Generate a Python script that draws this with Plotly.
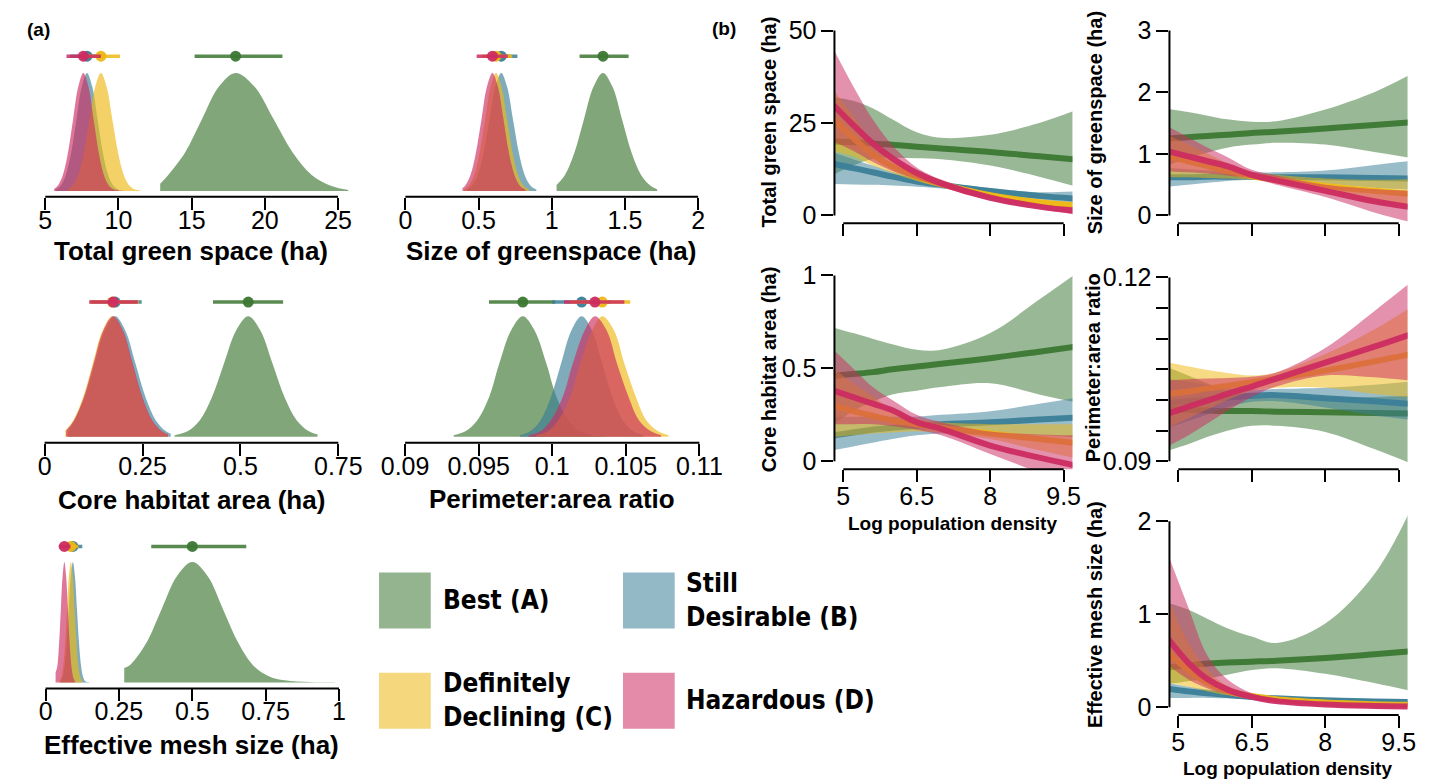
import plotly.graph_objects as go

W, H = 1448, 783

GROUPS = ["A", "B", "C", "D"]
GROUP_LABELS = {
    "A": "Best (A)",
    "B": "Still<br>Desirable (B)",
    "C": "Definitely<br>Declining (C)",
    "D": "Hazardous (D)",
}
COLORS = {"A": (60, 119, 51), "B": (59, 126, 151), "C": (237, 184, 20), "D": (204, 44, 97)}

# ---------------- panel (a): posterior densities (x, relative height) ----------------
A1_TICKS = [5, 10, 15, 20, 25]
A1_DENS_X = {
    "A": [12.85, 13.4, 14.55, 15.7, 16.85, 18.0, 19.3, 20.6, 21.9, 23.2, 24.5, 25.7],
    "B": [5.7, 6.05, 6.4, 6.77, 7.13, 7.49, 7.85, 8.21, 8.57, 8.93, 9.29, 9.65, 10.0],
    "C": [6.6, 6.85, 7.24, 7.63, 8.02, 8.41, 8.8, 9.19, 9.58, 9.97, 10.36, 10.75, 11.14, 11.5],
    "D": [5.6, 5.85, 6.2, 6.55, 6.9, 7.25, 7.6, 7.95, 8.3, 8.65, 9.0, 9.35, 9.7, 10.3],
}
A1_DENS_H = {
    "A": [0.06, 0.135, 0.325, 0.607, 0.882, 1.0, 0.882, 0.607, 0.325, 0.135, 0.044, 0.008],
    "B": [0.011, 0.044, 0.135, 0.325, 0.607, 0.882, 1.0, 0.882, 0.607, 0.325, 0.135, 0.044, 0.011],
    "C": [0.02, 0.044, 0.135, 0.325, 0.607, 0.882, 1.0, 0.882, 0.607, 0.325, 0.135, 0.044, 0.011, 0.003],
    "D": [0.017, 0.044, 0.135, 0.325, 0.607, 0.882, 1.0, 0.882, 0.607, 0.325, 0.135, 0.044, 0.011, 0.001],
}
A1_INTERVAL = {"A": (15.2, 18.0, 21.2), "B": (6.7, 7.85, 9.0), "C": (7.6, 8.8, 10.1), "D": (6.45, 7.6, 8.8)}

A2_TICKS = [0, 0.5, 1, 1.5, 2]
A2_DENS_X = {
    "A": [1.033, 1.09, 1.155, 1.22, 1.285, 1.35, 1.415, 1.48, 1.545, 1.61, 1.675, 1.72],
    "B": [0.42, 0.455, 0.495, 0.535, 0.575, 0.615, 0.655, 0.695, 0.735, 0.775, 0.815, 0.855, 0.895],
    "C": [0.4, 0.432, 0.47, 0.507, 0.545, 0.582, 0.62, 0.657, 0.695, 0.732, 0.77, 0.807, 0.845],
    "D": [0.39, 0.408, 0.445, 0.482, 0.52, 0.557, 0.595, 0.632, 0.67, 0.707, 0.745, 0.782, 0.82],
}
A2_DENS_H = {
    "A": [0.05, 0.135, 0.325, 0.607, 0.882, 1.0, 0.882, 0.607, 0.325, 0.135, 0.044, 0.015],
    "B": [0.013, 0.044, 0.135, 0.325, 0.607, 0.882, 1.0, 0.882, 0.607, 0.325, 0.135, 0.044, 0.011],
    "C": [0.013, 0.044, 0.135, 0.325, 0.607, 0.882, 1.0, 0.882, 0.607, 0.325, 0.135, 0.044, 0.011],
    "D": [0.024, 0.044, 0.135, 0.325, 0.607, 0.882, 1.0, 0.882, 0.607, 0.325, 0.135, 0.044, 0.011],
}
A2_INTERVAL = {"A": (1.19, 1.35, 1.525), "B": (0.55, 0.655, 0.765), "C": (0.52, 0.62, 0.73), "D": (0.487, 0.595, 0.70)}

A3_TICKS = [0, 0.25, 0.5, 0.75]
A3_DENS_X = {
    "A": [0.332, 0.365, 0.396, 0.427, 0.458, 0.489, 0.52, 0.551, 0.582, 0.613, 0.644, 0.675, 0.697],
    "B": [0.06, 0.076, 0.102, 0.128, 0.154, 0.18, 0.206, 0.232, 0.258, 0.284, 0.31, 0.322],
    "C": [0.053, 0.073, 0.098, 0.123, 0.148, 0.173, 0.198, 0.223, 0.248, 0.273, 0.298, 0.313],
    "D": [0.055, 0.075, 0.1, 0.125, 0.15, 0.175, 0.2, 0.225, 0.25, 0.275, 0.3, 0.315],
}
A3_DENS_H = {
    "A": [0.012, 0.044, 0.135, 0.325, 0.607, 0.882, 1.0, 0.882, 0.607, 0.325, 0.135, 0.044, 0.017],
    "B": [0.04, 0.135, 0.325, 0.607, 0.882, 1.0, 0.882, 0.607, 0.325, 0.135, 0.044, 0.024],
    "C": [0.05, 0.135, 0.325, 0.607, 0.882, 1.0, 0.882, 0.607, 0.325, 0.135, 0.044, 0.02],
    "D": [0.05, 0.135, 0.325, 0.607, 0.882, 1.0, 0.882, 0.607, 0.325, 0.135, 0.044, 0.02],
}
A3_INTERVAL = {"A": (0.43, 0.52, 0.609), "B": (0.12, 0.18, 0.248), "C": (0.115, 0.173, 0.24), "D": (0.114, 0.175, 0.238)}

A4_TICKS = [0.09, 0.095, 0.1, 0.105, 0.11]
A4_DENS_X = {
    "A": [0.0933, 0.0941, 0.0949, 0.0957, 0.0964, 0.0972, 0.098, 0.0988, 0.0996, 0.1003, 0.1011, 0.1019, 0.1027, 0.1035],
    "B": [0.0978, 0.0985, 0.0992, 0.0999, 0.1006, 0.1013, 0.102, 0.1027, 0.1034, 0.1041, 0.1048, 0.1055, 0.1062],
    "C": [0.0989, 0.0997, 0.1004, 0.1012, 0.1019, 0.1027, 0.1034, 0.1042, 0.1049, 0.1057, 0.1064, 0.1072, 0.1079],
    "D": [0.0984, 0.0992, 0.0999, 0.1007, 0.1014, 0.1022, 0.1029, 0.1037, 0.1044, 0.1052, 0.1059, 0.1067, 0.1074],
}
A4_DENS_H = {
    "A": [0.011, 0.044, 0.135, 0.325, 0.607, 0.882, 1.0, 0.882, 0.607, 0.325, 0.135, 0.044, 0.011, 0.002],
    "B": [0.011, 0.044, 0.135, 0.325, 0.607, 0.882, 1.0, 0.882, 0.607, 0.325, 0.135, 0.044, 0.011],
    "C": [0.011, 0.044, 0.135, 0.325, 0.607, 0.882, 1.0, 0.882, 0.607, 0.325, 0.135, 0.044, 0.011],
    "D": [0.011, 0.044, 0.135, 0.325, 0.607, 0.882, 1.0, 0.882, 0.607, 0.325, 0.135, 0.044, 0.011],
}
A4_INTERVAL = {"A": (0.0957, 0.098, 0.1002), "B": (0.1, 0.102, 0.104), "C": (0.1012, 0.1034, 0.1053), "D": (0.1008, 0.1029, 0.1049)}

A5_TICKS = [0, 0.25, 0.5, 0.75, 1]
A5_DENS_X = {
    "A": [0.268, 0.29, 0.3425, 0.395, 0.4475, 0.5, 0.5525, 0.605, 0.6575, 0.71, 0.7625, 0.815, 0.9, 0.985],
    "B": [0.051, 0.058, 0.065, 0.072, 0.079, 0.086, 0.093, 0.1, 0.107, 0.114, 0.121, 0.128, 0.135, 0.15],
    "C": [0.047, 0.0535, 0.06, 0.0665, 0.073, 0.0795, 0.086, 0.0925, 0.099, 0.1055, 0.112, 0.1185, 0.125],
    "D": [0.034, 0.04, 0.046, 0.052, 0.058, 0.064, 0.07, 0.076, 0.082, 0.088, 0.094, 0.1],
}
A5_DENS_H = {
    "A": [0.12, 0.15, 0.325, 0.607, 0.882, 1.0, 0.882, 0.607, 0.325, 0.135, 0.05, 0.018, 0.004, 0.001],
    "B": [0.011, 0.044, 0.135, 0.325, 0.607, 0.882, 1.0, 0.882, 0.607, 0.325, 0.135, 0.044, 0.011, 0.002],
    "C": [0.011, 0.044, 0.135, 0.325, 0.607, 0.882, 1.0, 0.882, 0.607, 0.325, 0.135, 0.044, 0.011],
    "D": [0.08, 0.135, 0.325, 0.607, 0.882, 1.0, 0.882, 0.607, 0.325, 0.135, 0.044, 0.011],
}
A5_INTERVAL = {"A": (0.36, 0.5, 0.684), "B": (0.07, 0.093, 0.125), "C": (0.062, 0.086, 0.112), "D": (0.045, 0.064, 0.085)}

# ---------------- panel (b): fitted relationships vs log population density ----------------
X_GRID = [4.8, 5.2, 5.6, 6.0, 6.5, 7.0, 8.0, 9.0, 9.7]
B_XTICKS = [5, 6.5, 8, 9.5]

B1_MEAN = {"A": [20.0, 19.8, 19.5, 19.1, 18.6, 18.1, 17.2, 16.0, 15.2],
           "B": [14.0, 12.8, 11.7, 10.5, 9.2, 8.3, 6.6, 5.3, 4.6],
           "C": [26.0, 21.0, 16.5, 13.3, 10.5, 8.5, 5.5, 3.6, 2.8],
           "D": [29.8, 24.5, 19.5, 15.5, 11.5, 8.7, 4.8, 2.4, 1.3]}
B1_LO = {"A": [11.0, 13.5, 15.3, 15.6, 15.5, 15.2, 13.5, 10.5, 8.0],
         "B": [8.5, 8.4, 8.3, 8.1, 7.8, 7.3, 5.8, 4.3, 3.3],
         "C": [17.5, 16.0, 13.5, 11.5, 9.3, 7.6, 4.8, 2.9, 2.1],
         "D": [20.0, 17.5, 14.5, 12.0, 9.8, 7.7, 4.1, 1.8, 0.3]}
B1_HI = {"A": [32.0, 31.0, 29.0, 26.0, 22.5, 21.0, 21.8, 25.0, 28.2],
         "B": [17.0, 15.2, 13.5, 11.8, 10.0, 9.0, 7.4, 6.3, 6.5],
         "C": [34.0, 27.0, 20.0, 15.5, 11.8, 9.5, 6.2, 4.3, 3.6],
         "D": [45.0, 35.0, 26.0, 19.0, 13.0, 9.7, 5.5, 3.0, 2.3]}
B1_YTICKS = [0, 25, 50]

B2_MEAN = {"A": [1.25, 1.27, 1.29, 1.31, 1.34, 1.36, 1.41, 1.47, 1.51],
           "B": [0.62, 0.62, 0.63, 0.63, 0.63, 0.62, 0.62, 0.61, 0.6],
           "C": [0.95, 0.88, 0.8, 0.72, 0.64, 0.58, 0.48, 0.4, 0.35],
           "D": [1.04, 0.96, 0.88, 0.8, 0.66, 0.57, 0.4, 0.23, 0.14]}
B2_LO = {"A": [0.82, 0.93, 1.02, 1.1, 1.15, 1.18, 1.15, 1.03, 0.94],
         "B": [0.47, 0.5, 0.53, 0.56, 0.58, 0.57, 0.52, 0.45, 0.42],
         "C": [0.62, 0.62, 0.61, 0.6, 0.58, 0.52, 0.38, 0.2, 0.12],
         "D": [0.72, 0.7, 0.68, 0.65, 0.6, 0.5, 0.3, 0.05, -0.1]}
B2_HI = {"A": [1.73, 1.68, 1.62, 1.56, 1.52, 1.53, 1.72, 2.0, 2.27],
         "B": [0.77, 0.75, 0.73, 0.71, 0.7, 0.7, 0.73, 0.82, 0.88],
         "C": [1.3, 1.15, 1.0, 0.85, 0.7, 0.66, 0.6, 0.58, 0.59],
         "D": [1.44, 1.27, 1.1, 0.95, 0.74, 0.65, 0.5, 0.43, 0.4]}
B2_YTICKS = [0, 1, 2, 3]

B3_MEAN = {"A": [0.46, 0.47, 0.48, 0.495, 0.51, 0.525, 0.555, 0.59, 0.615],
           "B": [0.14, 0.155, 0.17, 0.18, 0.19, 0.2, 0.21, 0.225, 0.235],
           "C": [0.3, 0.27, 0.245, 0.22, 0.2, 0.18, 0.15, 0.12, 0.1],
           "D": [0.38, 0.345, 0.31, 0.275, 0.21, 0.175, 0.085, 0.02, -0.02]}
B3_LO = {"A": [0.2, 0.27, 0.32, 0.36, 0.38, 0.4, 0.42, 0.36, 0.32],
         "B": [0.06, 0.08, 0.1, 0.12, 0.14, 0.15, 0.15, 0.14, 0.13],
         "C": [0.13, 0.14, 0.15, 0.155, 0.16, 0.155, 0.12, 0.06, 0.02],
         "D": [0.2, 0.2, 0.2, 0.19, 0.17, 0.14, 0.04, -0.06, -0.12]}
B3_HI = {"A": [0.72, 0.69, 0.66, 0.63, 0.6, 0.6, 0.69, 0.87, 1.0],
         "B": [0.24, 0.24, 0.24, 0.24, 0.24, 0.25, 0.27, 0.31, 0.34],
         "C": [0.5, 0.42, 0.35, 0.28, 0.23, 0.21, 0.2, 0.2, 0.2],
         "D": [0.6, 0.5, 0.4, 0.33, 0.25, 0.21, 0.16, 0.145, 0.14]}
B3_YTICKS = [0, 0.5, 1]

B4_MEAN = {"A": [0.0985, 0.0984, 0.0983, 0.0982, 0.0982, 0.0981, 0.098, 0.0979, 0.0978],
           "B": [0.0995, 0.0998, 0.1001, 0.1004, 0.1007, 0.1008, 0.1003, 0.0998, 0.0994],
           "C": [0.101, 0.1014, 0.1019, 0.1023, 0.1029, 0.1035, 0.1048, 0.1063, 0.1074],
           "D": [0.0978, 0.0989, 0.0999, 0.101, 0.1022, 0.1035, 0.1061, 0.1087, 0.1106]}
B4_LO = {"A": [0.0918, 0.0928, 0.094, 0.095, 0.0958, 0.0958, 0.0948, 0.092, 0.0898],
         "B": [0.0955, 0.0966, 0.0977, 0.0988, 0.0997, 0.0998, 0.0988, 0.0975, 0.0968],
         "C": [0.0955, 0.097, 0.0985, 0.1, 0.1015, 0.102, 0.102, 0.101, 0.1005],
         "D": [0.0925, 0.0942, 0.0962, 0.0982, 0.1005, 0.1022, 0.104, 0.1037, 0.1032]}
B4_HI = {"A": [0.1053, 0.104, 0.1027, 0.1015, 0.1005, 0.1003, 0.1004, 0.1005, 0.1007],
         "B": [0.1035, 0.103, 0.1025, 0.102, 0.1017, 0.1018, 0.102, 0.1025, 0.103],
         "C": [0.1061, 0.1055, 0.1049, 0.1044, 0.104, 0.1045, 0.1075, 0.1115, 0.1149],
         "D": [0.1032, 0.1034, 0.1035, 0.1036, 0.1038, 0.1045, 0.1085, 0.1145, 0.1189]}
B4_YTICKS = [0.09, 0.095, 0.1, 0.105, 0.11, 0.115, 0.12]
B4_YLABELS = ["0.09", "", "", "", "", "", "0.12"]

B5_MEAN = {"A": [0.43, 0.45, 0.47, 0.48, 0.49, 0.5, 0.53, 0.57, 0.6],
           "B": [0.2, 0.17, 0.15, 0.13, 0.11, 0.095, 0.075, 0.062, 0.055],
           "C": [0.58, 0.4, 0.26, 0.17, 0.12, 0.085, 0.05, 0.032, 0.025],
           "D": [0.73, 0.48, 0.3, 0.19, 0.11, 0.065, 0.028, 0.013, 0.008]}
B5_LO = {"A": [0.25, 0.28, 0.31, 0.35, 0.4, 0.42, 0.36, 0.26, 0.18],
         "B": [0.1, 0.1, 0.1, 0.095, 0.085, 0.075, 0.055, 0.04, 0.03],
         "C": [0.26, 0.22, 0.17, 0.13, 0.1, 0.07, 0.035, 0.018, 0.012],
         "D": [0.45, 0.3, 0.2, 0.14, 0.085, 0.05, 0.018, 0.006, 0.003]}
B5_HI = {"A": [1.12, 1.05, 0.95, 0.85, 0.76, 0.69, 0.9, 1.43, 2.08],
         "B": [0.26, 0.22, 0.19, 0.16, 0.13, 0.115, 0.095, 0.088, 0.085],
         "C": [1.15, 0.7, 0.4, 0.23, 0.145, 0.1, 0.06, 0.045, 0.04],
         "D": [1.63, 1.08, 0.55, 0.3, 0.15, 0.09, 0.04, 0.02, 0.015]}
B5_YTICKS = [0, 1, 2]

# ---------------- styling / layout helpers ----------------
NUM_FONT = "Liberation Sans, Arial, Helvetica, sans-serif"
LEG_FONT = "DejaVu Sans Condensed, Liberation Sans Narrow, Liberation Sans, sans-serif"


def rgba(g, a):
    r, gg, b = COLORS[g]
    return f"rgba({r},{gg},{b},{a})"


def fx(p):
    return p / W


def fy(p):
    return 1 - p / H


def fmt(v):
    return f"{v:g}"


fig = go.Figure()
layout = dict(width=W, height=H, margin=dict(l=0, r=0, t=0, b=0, pad=0),
              paper_bgcolor="white", plot_bgcolor="rgba(0,0,0,0)",
              showlegend=False, hovermode=False)
shapes = []
annotations = []

tickfont = dict(family=NUM_FONT, size=25, color="black")


def axis_names(i):
    if i == 1:
        return "xaxis", "yaxis", "x", "y"
    return f"xaxis{i}", f"yaxis{i}", f"x{i}", f"y{i}"


def axline(xref, yref, x0, x1, y0, y1):
    shapes.append(dict(type="line", xref=xref, yref=yref, x0=x0, x1=x1, y0=y0, y1=y1,
                       line=dict(color="black", width=2), layer="above"))


panels_a = [
    dict(xdom=(20, 345), ydom=(40, 193), xr=(4.4, 26.0667), yr=(-0.05, 1.225), ivy=1.142,
         ticks=A1_TICKS, dx=A1_DENS_X, dh=A1_DENS_H, iv=A1_INTERVAL,
         title="Total green space (ha)", tpos=(178, 248)),
    dict(xdom=(390, 705), ydom=(40, 193), xr=(-0.05333, 2.04667), yr=(-0.05, 1.225), ivy=1.142,
         ticks=A2_TICKS, dx=A2_DENS_X, dh=A2_DENS_H, iv=A2_INTERVAL,
         title="Size of greenspace (ha)", tpos=(547, 248)),
    dict(xdom=(20, 345), ydom=(290, 443), xr=(-0.02068, 0.78919), yr=(-0.05, 1.2), ivy=1.118,
         ticks=A3_TICKS, dx=A3_DENS_X, dh=A3_DENS_H, iv=A3_INTERVAL,
         title="Core habitat area (ha)", tpos=(179, 501)),
    dict(xdom=(390, 705), ydom=(290, 443), xr=(0.089489, 0.110378), yr=(-0.05, 1.2), ivy=1.118,
         ticks=A4_TICKS, dx=A4_DENS_X, dh=A4_DENS_H, iv=A4_INTERVAL,
         title="Perimeter:area ratio", tpos=(548, 500)),
    dict(xdom=(20, 345), ydom=(540, 693), xr=(-0.03093, 1.04988), yr=(-0.05, 1.2), ivy=1.13,
         ticks=A5_TICKS, dx=A5_DENS_X, dh=A5_DENS_H, iv=A5_INTERVAL,
         title="Effective mesh size (ha)", tpos=(179, 750)),
]

idx = 0
for p in panels_a:
    idx += 1
    xa, ya, xr, yr = axis_names(idx)
    layout[xa] = dict(domain=[fx(p["xdom"][0]), fx(p["xdom"][1])], range=list(p["xr"]), anchor=yr,
                      showgrid=False, zeroline=False, showline=False,
                      ticks="outside", ticklen=12, tickwidth=2, tickcolor="black",
                      tickvals=p["ticks"], ticktext=[fmt(v) for v in p["ticks"]],
                      ticklabelstandoff=-11,
                      tickfont=tickfont, fixedrange=True)
    layout[ya] = dict(domain=[fy(p["ydom"][1]), fy(p["ydom"][0])], range=list(p["yr"]), anchor=xr,
                      visible=False, fixedrange=True)
    axline(xr, f"{yr} domain", p["ticks"][0], p["ticks"][-1], 0, 0)
    for g in GROUPS:
        fig.add_trace(go.Scatter(x=p["dx"][g], y=p["dh"][g], mode="lines",
                                 line=dict(width=0, shape="spline", color=rgba(g, 0.65)),
                                 fill="tozeroy", fillcolor=rgba(g, 0.65),
                                 xaxis=xr, yaxis=yr, hoverinfo="skip"))
    for g in GROUPS:
        lo, pt, hi = p["iv"][g]
        fig.add_trace(go.Scatter(x=[lo, hi], y=[p["ivy"], p["ivy"]], mode="lines",
                                 line=dict(width=3.5, color=rgba(g, 0.85)),
                                 xaxis=xr, yaxis=yr, hoverinfo="skip"))
        fig.add_trace(go.Scatter(x=[pt], y=[p["ivy"]], mode="markers",
                                 marker=dict(size=11, color=rgba(g, 0.95), line=dict(width=0)),
                                 xaxis=xr, yaxis=yr, hoverinfo="skip"))
    annotations.append(dict(text=f"<b>{p['title']}</b>", x=fx(p["tpos"][0]), y=fy(p["tpos"][1]),
                            xref="paper", yref="paper", xanchor="center", yanchor="middle",
                            showarrow=False, font=dict(family=NUM_FONT, size=26, color="black")))

panels_b = [
    dict(xdom=(837.7, 1081.6), ydom=(16, 220), yr=(-2.128, 52.128), yt=B1_YTICKS, yl=None,
         mean=B1_MEAN, lo=B1_LO, hi=B1_HI, xlab=False,
         ytitle="Total green space (ha)", ytpos=(771, 117)),
    dict(xdom=(1181, 1425), ydom=(16, 220), yr=(-0.1277, 3.1277), yt=B2_YTICKS, yl=None,
         mean=B2_MEAN, lo=B2_LO, hi=B2_HI, xlab=False,
         ytitle="Size of greenspace (ha)", ytpos=(1105, 118)),
    dict(xdom=(837.7, 1081.6), ydom=(266, 470), yr=(-0.0423, 1.037), yt=B3_YTICKS, yl=None,
         mean=B3_MEAN, lo=B3_LO, hi=B3_HI, xlab=True, xtpos=(959, 525),
         ytitle="Core habitat area (ha)", ytpos=(771, 368)),
    dict(xdom=(1181, 1425), ydom=(266, 470), yr=(0.08872, 0.12144), yt=B4_YTICKS, yl=B4_YLABELS,
         mean=B4_MEAN, lo=B4_LO, hi=B4_HI, xlab=False,
         ytitle="Perimeter:area ratio", ytpos=(1103, 367)),
    dict(xdom=(1181, 1425), ydom=(515, 720), yr=(-0.0847, 2.0847), yt=B5_YTICKS, yl=None,
         mean=B5_MEAN, lo=B5_LO, hi=B5_HI, xlab=True, xtpos=(1302, 774),
         ytitle="Effective mesh size (ha)", ytpos=(1104, 618)),
]

for p in panels_b:
    idx += 1
    xa, ya, xr, yr = axis_names(idx)
    layout[xa] = dict(domain=[fx(p["xdom"][0]), fx(p["xdom"][1])], range=[4.82, 9.68], anchor=yr,
                      showgrid=False, zeroline=False, showline=False,
                      ticks="outside", ticklen=12, tickwidth=2, tickcolor="black",
                      tickvals=B_XTICKS, ticktext=[fmt(v) for v in B_XTICKS],
                      showticklabels=p["xlab"], ticklabelstandoff=-7,
                      tickfont=tickfont, fixedrange=True)
    layout[ya] = dict(domain=[fy(p["ydom"][1]), fy(p["ydom"][0])], range=list(p["yr"]), anchor=xr,
                      showgrid=False, zeroline=False, showline=False,
                      ticks="outside", ticklen=12, tickwidth=2, tickcolor="black",
                      tickvals=p["yt"], ticktext=p["yl"] if p["yl"] else [fmt(v) for v in p["yt"]],
                      tickfont=tickfont, fixedrange=True)
    axline(xr, f"{yr} domain", B_XTICKS[0], B_XTICKS[-1], 0, 0)
    axline(f"{xr} domain", yr, 0, 0, p["yt"][0], p["yt"][-1])
    for g in GROUPS:
        fig.add_trace(go.Scatter(x=X_GRID, y=p["lo"][g], mode="lines",
                                 line=dict(width=0, shape="spline", color=rgba(g, 0)),
                                 xaxis=xr, yaxis=yr, hoverinfo="skip"))
        fig.add_trace(go.Scatter(x=X_GRID, y=p["hi"][g], mode="lines",
                                 line=dict(width=0, shape="spline", color=rgba(g, 0)),
                                 fill="tonexty", fillcolor=rgba(g, 0.52),
                                 xaxis=xr, yaxis=yr, hoverinfo="skip"))
        fig.add_trace(go.Scatter(x=X_GRID, y=p["mean"][g], mode="lines",
                                 line=dict(width=6, shape="spline", color=rgba(g, 0.95)),
                                 xaxis=xr, yaxis=yr, hoverinfo="skip"))
    annotations.append(dict(text=f"<b>{p['ytitle']}</b>", x=fx(p["ytpos"][0]), y=fy(p["ytpos"][1]),
                            xref="paper", yref="paper", xanchor="center", yanchor="middle",
                            textangle=-90, showarrow=False,
                            font=dict(family=NUM_FONT, size=20, color="black")))
    if p["xlab"]:
        annotations.append(dict(text="<b>Log population density</b>", x=fx(p["xtpos"][0]),
                                y=fy(p["xtpos"][1]), xref="paper", yref="paper",
                                xanchor="center", yanchor="middle", showarrow=False,
                                font=dict(family=NUM_FONT, size=19, color="black")))

# panel letters
annotations.append(dict(text="<b>(a)</b>", x=fx(22), y=fy(23), xref="paper", yref="paper",
                        xanchor="center", yanchor="middle", showarrow=False,
                        font=dict(family=NUM_FONT, size=19, color="black")))
annotations.append(dict(text="<b>(b)</b>", x=fx(725), y=fy(22), xref="paper", yref="paper",
                        xanchor="center", yanchor="middle", showarrow=False,
                        font=dict(family=NUM_FONT, size=19, color="black")))

# legend (drawn as colour keys + text)
LEG_POS = {"A": (371, 575), "B": (621, 575), "C": (371, 677), "D": (621, 677)}
for g in GROUPS:
    x0, y0 = LEG_POS[g]
    shapes.append(dict(type="rect", xref="paper", yref="paper", x0=fx(x0), x1=fx(x0 + 53),
                       y0=fy(y0 + 57), y1=fy(y0), fillcolor=rgba(g, 0.55), line=dict(width=0)))
    annotations.append(dict(text=f"<b>{GROUP_LABELS[g]}</b>", x=fx(x0 + 63), y=fy(y0 + 28),
                            xref="paper", yref="paper", xanchor="left", yanchor="middle",
                            align="left", showarrow=False,
                            font=dict(family=LEG_FONT, size=26, color="black")))

layout["shapes"] = shapes
layout["annotations"] = annotations
fig.update_layout(**layout)

# remove the default page margin right away (not only after the plot promise resolves)
PAGE_FIX = ("}); document.documentElement.style.margin='0'; document.body.style.margin='0'; "
            "document.body.style.padding='0'; document.body.style.overflow='hidden'; "
            "document.documentElement.style.overflow='hidden'; (function(){")

fig.write_html("out.html", config={"displayModeBar": False, "staticPlot": True},
               post_script=PAGE_FIX)
